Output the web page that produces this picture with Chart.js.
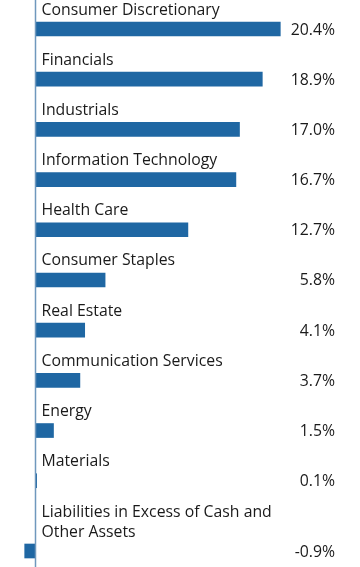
<!DOCTYPE html>
<html>
<head>
<meta charset="utf-8">
<script src="https://cdn.jsdelivr.net/npm/chart.js@4"></script>
<style>
html,body{margin:0;padding:0;background:#fff;}
#wrap{position:relative;width:360px;height:567px;}
</style>
</head>
<body>
<div id="wrap"><canvas id="c" width="360" height="567"></canvas></div>
<script>
const categories = [
  "Consumer Discretionary",
  "Financials",
  "Industrials",
  "Information Technology",
  "Health Care",
  "Consumer Staples",
  "Real Estate",
  "Communication Services",
  "Energy",
  "Materials",
  ["Liabilities in Excess of Cash and", "Other Assets"]
];
const values = [20.4, 18.9, 17.0, 16.7, 12.7, 5.8, 4.1, 3.7, 1.5, 0.1, -0.9];
const valueLabels = ["20.4%", "18.9%", "17.0%", "16.7%", "12.7%", "5.8%", "4.1%", "3.7%", "1.5%", "0.1%", "-0.9%"];

const FONT = "'Open Sans', sans-serif";
const FONT_SIZE = 15.8;
const EXTRA_LINE_ROW = 0.4; // a row grows with each extra label line

// row positions follow label line counts (layout rule)
const rowPos = [];
let acc = 0;
categories.forEach((c, i) => {
  const n = Array.isArray(c) ? c.length : 1;
  acc += (n - 1) * EXTRA_LINE_ROW;
  rowPos.push(i + acc);
});

const labelPlugin = {
  id: 'labels',
  afterDatasetsDraw(chart) {
    const ctx = chart.ctx;
    const xs = chart.scales.x, ys = chart.scales.y;
    const x0 = xs.getPixelForValue(0);
    ctx.save();
    ctx.strokeStyle = '#6f98bd';
    ctx.lineWidth = 1.5;
    ctx.beginPath();
    ctx.moveTo(x0, 0);
    ctx.lineTo(x0, chart.height);
    ctx.stroke();
    ctx.fillStyle = '#1a1a1a';
    ctx.font = FONT_SIZE + 'px ' + FONT;
    categories.forEach((cat, i) => {
      const yc = ys.getPixelForValue(rowPos[i]);
      const lines = Array.isArray(cat) ? cat : [cat];
      ctx.textAlign = 'left';
      ctx.textBaseline = 'middle';
      lines.forEach((ln, j) => {
        const y = yc - 19 - (lines.length - 1 - j) * 20;
        ctx.fillText(ln, x0 + 6, y);
      });
      ctx.textAlign = 'right';
      ctx.fillText(valueLabels[i], 335, yc + 1);
    });
    ctx.restore();
  }
};

new Chart(document.getElementById('c'), {
  type: 'bar',
  data: {
    datasets: [{
      data: values.map((v, i) => ({ x: v, y: rowPos[i] })),
      backgroundColor: '#1f67a3',
      barThickness: 14,
      clip: false
    }]
  },
  options: {
    indexAxis: 'y',
    responsive: false,
    animation: false,
    devicePixelRatio: 1,
    layout: { padding: { left: 11.5, right: 24.5, top: 29, bottom: 16 } },
    plugins: { legend: { display: false }, tooltip: { enabled: false } },
    scales: {
      x: { type: 'linear', display: false, min: -2, max: 25 },
      y: { type: 'linear', display: false, reverse: true, offset: false, min: 0, max: rowPos[rowPos.length - 1] }
    }
  },
  plugins: [labelPlugin]
});
</script>
</body>
</html>
